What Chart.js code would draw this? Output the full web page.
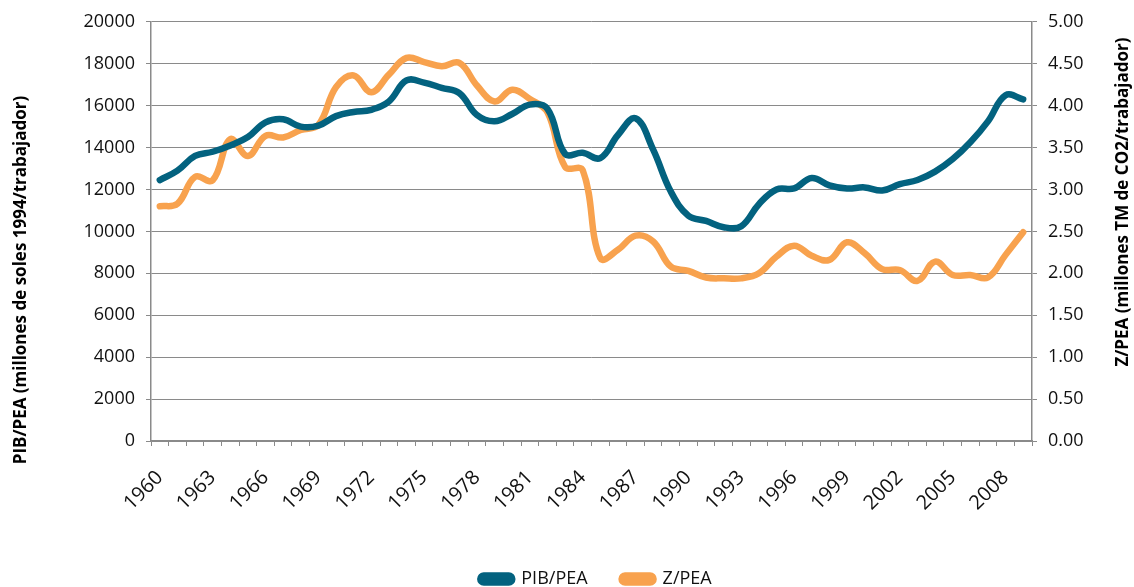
<!DOCTYPE html>
<html>
<head>
<meta charset="utf-8">
<script src="https://cdn.jsdelivr.net/npm/chart.js@4.4.1/dist/chart.umd.min.js"></script>
<style>
  html, body { margin: 0; padding: 0; background: #fff; }
  canvas { display: block; }
</style>
</head>
<body>
<canvas id="chart" width="1134" height="587"></canvas>
<script>
// years 1960 - 2009
const years = [];
for (let y = 1960; y <= 2009; y++) years.push(String(y));

// PIB/PEA, left axis (millones de soles 1994/trabajador)
const pibPea = [
  12450, 12900, 13600, 13800, 14100, 14500, 15200, 15350, 15000, 15050,
  15500, 15700, 15800, 16200, 17200, 17100, 16850, 16600, 15550, 15250,
  15600, 16050, 15850, 13700, 13750, 13500, 14600, 15400, 13900, 11900,
  10750, 10500, 10200, 10250, 11300, 12000, 12050, 12550, 12200, 12050,
  12100, 11950, 12250, 12450, 12850, 13450, 14250, 15250, 16500, 16300
];

// Z/PEA, right axis (millones TM de CO2/trabajador)
const zPea = [
  2.80, 2.83, 3.15, 3.11, 3.60, 3.40, 3.64, 3.62, 3.71, 3.77,
  4.22, 4.36, 4.16, 4.37, 4.57, 4.52, 4.47, 4.51, 4.24, 4.05,
  4.19, 4.08, 3.92, 3.27, 3.23, 2.18, 2.28, 2.45, 2.38, 2.08,
  2.03, 1.95, 1.94, 1.94, 2.00, 2.20, 2.33, 2.21, 2.16, 2.37,
  2.24, 2.05, 2.04, 1.91, 2.14, 1.98, 1.98, 1.95, 2.22, 2.49
];

const leftTitle = 'PIB/PEA (millones de soles 1994/trabajador)';
const rightTitle = 'Z/PEA (millones TM de CO2/trabajador)';

const blue = '#03627f';
const orange = '#f8a24e';
const gridColor = '#8a8a8a';
const tickFont = { family: '"Open Sans", sans-serif', size: 18 };

// titles drawn by hand so they can sit off-centre like the original
const axisTitles = {
  id: 'axisTitles',
  afterDraw(chart) {
    const ctx = chart.ctx;
    ctx.save();
    ctx.font = 'bold 17px "Open Sans", sans-serif';
    ctx.fillStyle = '#000';
    ctx.textAlign = 'center';
    ctx.textBaseline = 'middle';
    ctx.translate(21, 280);
    ctx.rotate(-Math.PI / 2);
    ctx.fillText(leftTitle, 0, 0);
    ctx.restore();

    ctx.save();
    ctx.font = 'bold 17px "Open Sans", sans-serif';
    ctx.fillStyle = '#000';
    ctx.textAlign = 'center';
    ctx.textBaseline = 'middle';
    ctx.translate(1123, 202);
    ctx.rotate(-Math.PI / 2);
    ctx.fillText(rightTitle, 0, 0);
    ctx.restore();
  }
};

new Chart(document.getElementById('chart'), {
  type: 'line',
  plugins: [axisTitles],
  data: {
    labels: years,
    datasets: [
      {
        label: 'PIB/PEA',
        data: pibPea,
        yAxisID: 'y',
        borderColor: blue,
        backgroundColor: blue,
        borderWidth: 6.5,
        borderCapStyle: 'round',
        borderJoinStyle: 'round',
        pointRadius: 0,
        tension: 0.4
      },
      {
        label: 'Z/PEA',
        data: zPea,
        yAxisID: 'y1',
        borderColor: orange,
        backgroundColor: orange,
        borderWidth: 6.5,
        borderCapStyle: 'round',
        borderJoinStyle: 'round',
        pointRadius: 0,
        tension: 0.4
      }
    ]
  },
  options: {
    responsive: false,
    animation: false,
    devicePixelRatio: 1,
    layout: { padding: { top: 19, left: 58, right: 0, bottom: -11 } },
    plugins: {
      tooltip: { enabled: false },
      legend: {
        position: 'bottom',
        labels: {
          color: '#111',
          font: { family: '"Open Sans", sans-serif', size: 18 },
          boxWidth: 32,
          boxHeight: 7,
          useBorderRadius: true,
          borderRadius: 3.5,
          padding: 34
        }
      }
    },
    scales: {
      x: {
        offset: true,
        afterFit: s => { s.height = 95; },
        border: { color: gridColor, width: 1.5 },
        grid: { offset: true, drawOnChartArea: false, tickLength: 5, color: gridColor },
        ticks: {
          autoSkip: false,
          maxRotation: 45,
          minRotation: 45,
          padding: 20,
          color: '#111',
          font: { family: '"Open Sans", sans-serif', size: 20 },
          callback: (v, i) => (i % 3 === 0 ? years[i] : '')
        }
      },
      y: {
        position: 'left',
        min: 0,
        max: 20000,
        afterFit: s => { s.width = 93; },
        border: { color: gridColor, width: 1.5 },
        grid: { color: gridColor, tickLength: 5 },
        ticks: { stepSize: 2000, padding: 11, color: '#111', font: tickFont, callback: v => String(v) }
      },
      y1: {
        position: 'right',
        min: 0,
        max: 5,
        afterFit: s => { s.width = 102; },
        border: { color: gridColor, width: 1.5 },
        grid: { drawOnChartArea: false, color: gridColor, tickLength: 5 },
        ticks: {
          stepSize: 0.5,
          padding: 11,
          color: '#111',
          font: tickFont,
          callback: v => Number(v).toFixed(2)
        }
      }
    }
  }
});
</script>
</body>
</html>
